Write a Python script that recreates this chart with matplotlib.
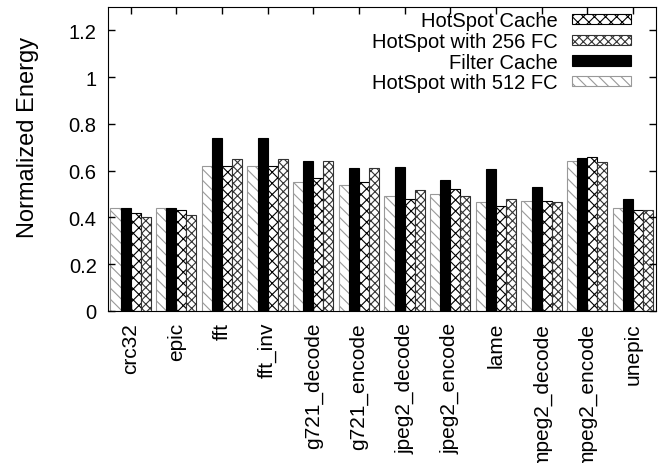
import matplotlib
matplotlib.use("Agg")
import matplotlib.pyplot as plt
import numpy as np

benchmarks = ["crc32", "epic", "fft", "fft_inv", "g721_decode", "g721_encode",
              "jpeg2_decode", "jpeg2_encode", "lame", "mpeg2_decode",
              "mpeg2_encode", "unepic"]

hotspot_512 = [0.44, 0.44, 0.62, 0.62, 0.55, 0.54, 0.49, 0.50, 0.465, 0.47, 0.64, 0.44]
filter_cache = [0.44, 0.44, 0.74, 0.74, 0.64, 0.61, 0.615, 0.56, 0.605, 0.53, 0.655, 0.48]
hotspot_cache = [0.42, 0.43, 0.62, 0.62, 0.57, 0.55, 0.48, 0.52, 0.45, 0.47, 0.66, 0.43]
hotspot_256 = [0.40, 0.41, 0.65, 0.65, 0.64, 0.61, 0.515, 0.49, 0.48, 0.465, 0.637, 0.43]

plt.rcParams["font.family"] = ["Liberation Sans", "DejaVu Sans"]
plt.rcParams["font.size"] = 14.5
plt.rcParams["hatch.linewidth"] = 0.8

fig = plt.figure(figsize=(6.61, 4.64), dpi=100)
ax = fig.add_axes([0.163, 0.328, 0.829, 0.655])

x = np.arange(len(benchmarks))
w = 0.22
b512 = ax.bar(x - 1.5 * w, hotspot_512, w, facecolor="white", edgecolor="0.6",
              hatch="\\\\\\", linewidth=0.8, label="HotSpot with 512 FC")
bfc = ax.bar(x - 0.5 * w, filter_cache, w, facecolor="black", edgecolor="black",
             linewidth=0.8, label="Filter Cache")
bhs = ax.bar(x + 0.5 * w, hotspot_cache, w, facecolor="white", edgecolor="black",
             hatch="xxx", linewidth=0.8, label="HotSpot Cache")
b256 = ax.bar(x + 1.5 * w, hotspot_256, w, facecolor="white", edgecolor="0.2",
              hatch="xxxx", linewidth=0.8, label="HotSpot with 256 FC")

ax.set_xlim(-0.5, len(benchmarks) - 0.5)
ax.set_ylim(0, 1.3)
ax.set_yticks([0, 0.2, 0.4, 0.6, 0.8, 1, 1.2])
ax.set_yticklabels(["0", "0.2", "0.4", "0.6", "0.8", "1", "1.2"])
ax.set_xticks(x)
ax.set_xticklabels(benchmarks, rotation=90, fontsize=15)
ax.tick_params(direction="in", top=True, right=True, length=5, width=1)
ax.tick_params(axis="x", pad=8)
ax.tick_params(axis="y", pad=8)
ax.set_ylabel("Normalized Energy", fontsize=17)
ax.yaxis.set_label_coords(-0.125, 0.575)

ax.legend([bhs, b256, bfc, b512],
          ["HotSpot Cache", "HotSpot with 256 FC", "Filter Cache", "HotSpot with 512 FC"],
          loc="upper right", bbox_to_anchor=(0.955, 0.985), frameon=False,
          markerfirst=False, handlelength=2.95, handleheight=0.4,
          handletextpad=0.7, labelspacing=0.08, borderpad=0, borderaxespad=0)

fig.savefig("out.png", dpi=100)
